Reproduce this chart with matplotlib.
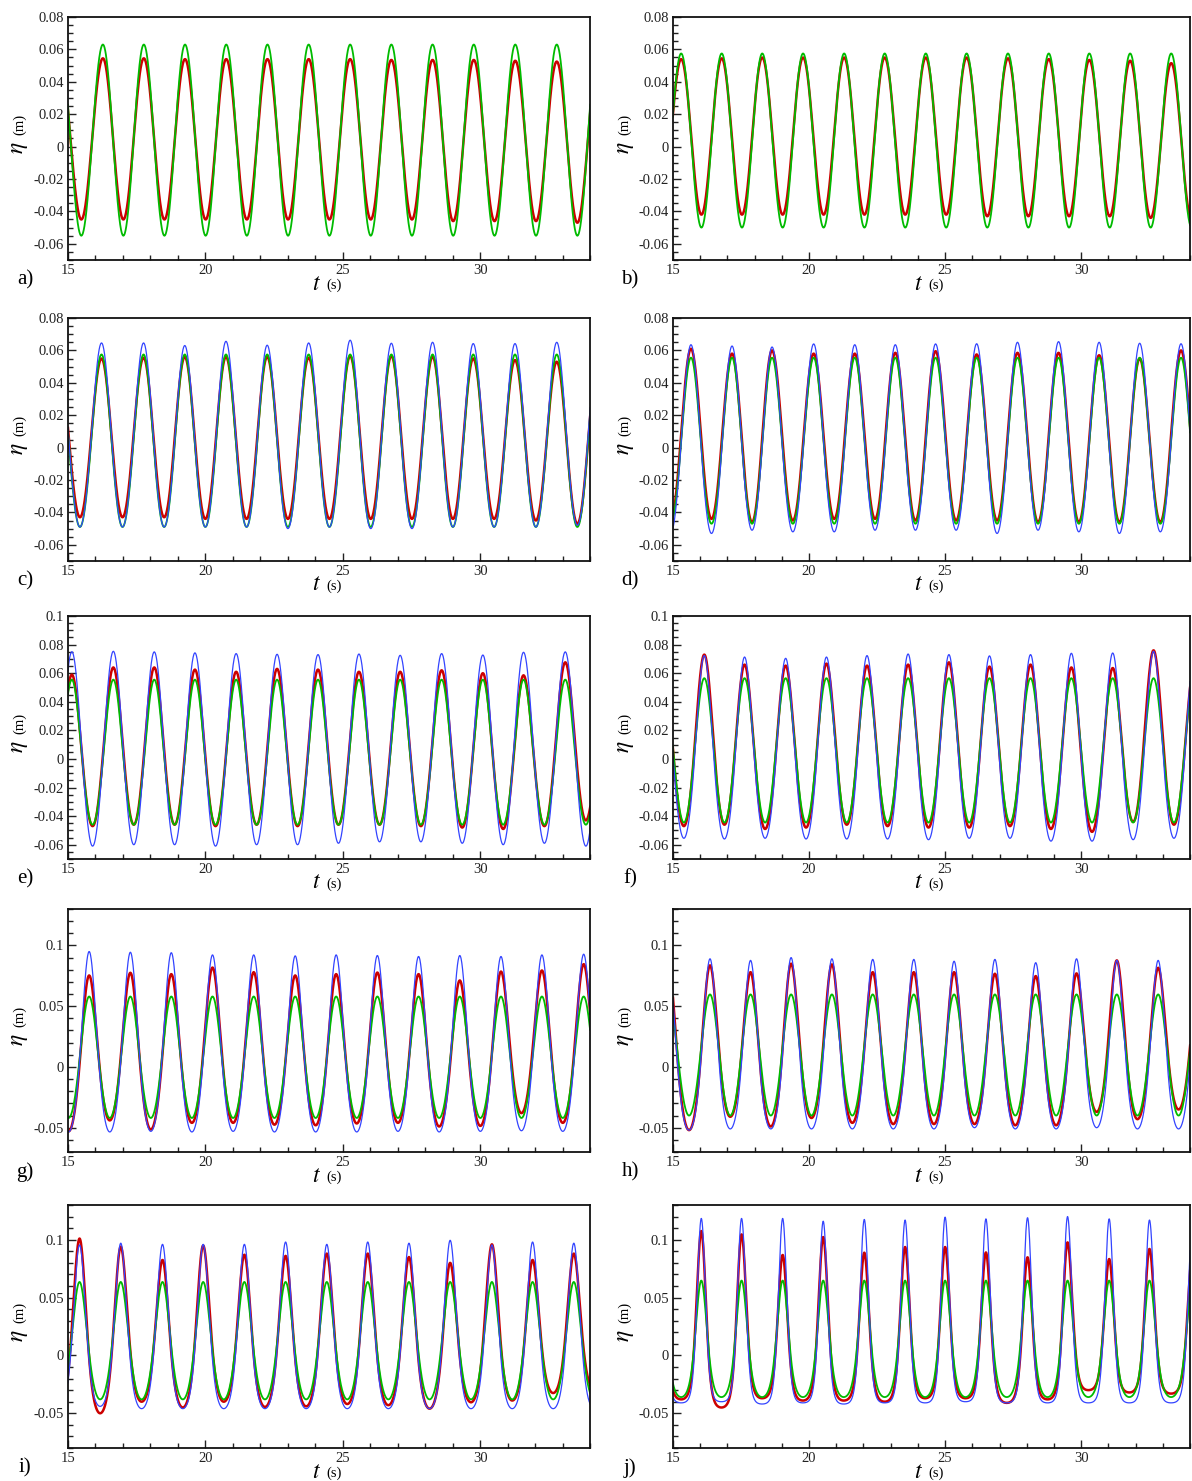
import numpy as np
import matplotlib
matplotlib.use('Agg')
import matplotlib.pyplot as plt
from matplotlib.ticker import MultipleLocator, FuncFormatter

plt.rcParams['font.family'] = ['Liberation Serif', 'DejaVu Serif']
plt.rcParams['mathtext.fontset'] = 'stix'
plt.rcParams['axes.unicode_minus'] = False

# ---------------- data: crest times (s), crest and trough elevations (m) ----------------
# troughs lie between consecutive crests
A_T = [14.70, 16.27, 17.76, 19.26, 20.76, 22.26, 23.76, 25.27, 26.77, 28.27, 29.77, 31.28, 32.79, 34.29]
A_RED_C = [0.054, 0.0545, 0.0545, 0.054, 0.054, 0.054, 0.054, 0.054, 0.0535, 0.0535, 0.0535, 0.053, 0.0525, 0.052]
A_RED_TR = [-0.045, -0.045, -0.045, -0.045, -0.045, -0.045, -0.045, -0.045, -0.045, -0.046, -0.046, -0.046, -0.047]
A_GRN_C = [0.063, 0.063, 0.063, 0.063, 0.063, 0.063, 0.063, 0.063, 0.063, 0.063, 0.063, 0.063, 0.063, 0.063]
A_GRN_TR = [-0.055, -0.055, -0.055, -0.055, -0.055, -0.055, -0.055, -0.055, -0.055, -0.055, -0.055, -0.055, -0.055]

B_T = [13.80, 15.30, 16.79, 18.28, 19.78, 21.29, 22.78, 24.29, 25.79, 27.31, 28.81, 30.30, 31.80, 33.31, 34.81]
B_RED_C = [0.054, 0.054, 0.0545, 0.055, 0.055, 0.055, 0.055, 0.055, 0.055, 0.0545, 0.054, 0.0535, 0.053, 0.0515, 0.051]
B_RED_TR = [-0.042, -0.042, -0.042, -0.042, -0.042, -0.042, -0.042, -0.042, -0.043, -0.043, -0.043, -0.043, -0.044, -0.045]
B_GRN_C = [0.0575, 0.0575, 0.0575, 0.0575, 0.0575, 0.0575, 0.0575, 0.0575, 0.0575, 0.0575, 0.0575, 0.0575, 0.0575, 0.0575, 0.0575]
B_GRN_TR = [-0.050, -0.050, -0.050, -0.050, -0.050, -0.050, -0.050, -0.050, -0.050, -0.050, -0.050, -0.050, -0.050, -0.050]

C_T = [14.65, 16.22, 17.75, 19.25, 20.75, 22.25, 23.76, 25.27, 26.77, 28.27, 29.75, 31.27, 32.79, 34.29]
C_RED_C = [0.055, 0.055, 0.0555, 0.056, 0.056, 0.056, 0.0555, 0.0565, 0.0565, 0.056, 0.055, 0.054, 0.053, 0.053]
C_RED_TR = [-0.043, -0.043, -0.043, -0.044, -0.044, -0.044, -0.044, -0.044, -0.044, -0.044, -0.044, -0.045, -0.047]
C_GRN_C = [0.0575, 0.0575, 0.0575, 0.0575, 0.0575, 0.0575, 0.0575, 0.0575, 0.0575, 0.0575, 0.0575, 0.0575, 0.0575, 0.0575]
C_GRN_TR = [-0.049, -0.049, -0.049, -0.049, -0.049, -0.049, -0.049, -0.049, -0.049, -0.049, -0.049, -0.049, -0.049]
C_BLU_C = [0.064, 0.0646, 0.0646, 0.063, 0.0656, 0.0632, 0.0646, 0.0663, 0.0644, 0.065, 0.0642, 0.0642, 0.065, 0.065]
C_BLU_TR = [-0.049, -0.049, -0.049, -0.049, -0.049, -0.050, -0.049, -0.050, -0.050, -0.049, -0.049, -0.049, -0.048]

D_T = [14.16, 15.66, 17.17, 18.64, 20.17, 21.68, 23.17, 24.65, 26.16, 27.66, 29.17, 30.66, 32.15, 33.67, 35.17]
D_RED_C = [0.060, 0.061, 0.058, 0.060, 0.058, 0.058, 0.0585, 0.0595, 0.0575, 0.0585, 0.0585, 0.057, 0.055, 0.060, 0.058]
D_RED_TR = [-0.045, -0.044, -0.046, -0.045, -0.044, -0.044, -0.045, -0.045, -0.045, -0.046, -0.046, -0.046, -0.046, -0.046]
D_GRN_C = [0.0555, 0.0555, 0.0555, 0.0555, 0.0555, 0.0555, 0.0555, 0.0555, 0.0555, 0.0555, 0.0555, 0.0555, 0.0555, 0.0555, 0.0555]
D_GRN_TR = [-0.047, -0.047, -0.047, -0.047, -0.047, -0.047, -0.047, -0.047, -0.047, -0.047, -0.047, -0.047, -0.047, -0.047]
D_BLU_C = [0.063, 0.0635, 0.0627, 0.0621, 0.064, 0.0635, 0.0635, 0.064, 0.0641, 0.065, 0.0654, 0.065, 0.0644, 0.0641, 0.064]
D_BLU_TR = [-0.053, -0.053, -0.051, -0.052, -0.052, -0.051, -0.051, -0.051, -0.053, -0.051, -0.052, -0.053, -0.052, -0.052]

E_T = [13.64, 15.14, 16.65, 18.14, 19.62, 21.12, 22.61, 24.10, 25.59, 27.09, 28.60, 30.10, 31.58, 33.10, 34.60]
E_RED_C = [0.058, 0.059, 0.064, 0.064, 0.0625, 0.061, 0.063, 0.0625, 0.061, 0.061, 0.062, 0.060, 0.0585, 0.0676, 0.065]
E_RED_TR = [-0.046, -0.047, -0.046, -0.046, -0.047, -0.046, -0.047, -0.046, -0.046, -0.047, -0.048, -0.049, -0.047, -0.043]
E_GRN_C = [0.0555, 0.0555, 0.0555, 0.0555, 0.0555, 0.0555, 0.0555, 0.0555, 0.0555, 0.0555, 0.0555, 0.0555, 0.0555, 0.0555, 0.0555]
E_GRN_TR = [-0.046, -0.046, -0.046, -0.046, -0.046, -0.046, -0.046, -0.046, -0.046, -0.046, -0.046, -0.046, -0.046, -0.046]
E_BLU_C = [0.074, 0.075, 0.0753, 0.0749, 0.0742, 0.0737, 0.0732, 0.073, 0.0734, 0.0725, 0.0737, 0.0727, 0.0746, 0.0749, 0.074]
E_BLU_TR = [-0.060, -0.061, -0.060, -0.060, -0.061, -0.060, -0.060, -0.059, -0.058, -0.058, -0.059, -0.060, -0.059, -0.061]

F_T = [14.65, 16.15, 17.63, 19.14, 20.64, 22.13, 23.64, 25.14, 26.63, 28.14, 29.64, 31.16, 32.66, 34.16]
F_RED_C = [0.065, 0.073, 0.066, 0.0653, 0.0667, 0.0653, 0.066, 0.0676, 0.0646, 0.066, 0.064, 0.0636, 0.076, 0.065]
F_RED_TR = [-0.047, -0.046, -0.049, -0.048, -0.046, -0.047, -0.048, -0.048, -0.047, -0.049, -0.051, -0.044, -0.046]
F_GRN_C = [0.0565, 0.0565, 0.0565, 0.0565, 0.0565, 0.0565, 0.0565, 0.0565, 0.0565, 0.0565, 0.0565, 0.0565, 0.0565, 0.0565]
F_GRN_TR = [-0.0445, -0.0445, -0.0445, -0.0445, -0.0445, -0.0445, -0.0445, -0.0445, -0.0445, -0.0445, -0.0445, -0.0445, -0.0445]
F_BLU_C = [0.072, 0.0723, 0.0713, 0.0704, 0.0713, 0.0723, 0.0734, 0.073, 0.0721, 0.073, 0.0739, 0.0741, 0.0753, 0.073]
F_BLU_TR = [-0.0555, -0.056, -0.0555, -0.056, -0.056, -0.056, -0.0565, -0.0555, -0.0555, -0.0575, -0.0575, -0.0565, -0.0555]

G_T = [14.27, 15.77, 17.27, 18.76, 20.26, 21.76, 23.27, 24.76, 26.26, 27.76, 29.26, 30.76, 32.25, 33.77, 35.27]
G_RED_C = [0.075, 0.0753, 0.0775, 0.0764, 0.0818, 0.078, 0.0753, 0.0764, 0.0777, 0.0764, 0.0712, 0.0785, 0.0794, 0.0846, 0.080]
G_RED_TR = [-0.053, -0.044, -0.0515, -0.046, -0.046, -0.0475, -0.048, -0.0465, -0.046, -0.049, -0.0485, -0.038, -0.046, -0.045]
G_GRN_C = [0.058, 0.058, 0.058, 0.058, 0.058, 0.058, 0.058, 0.058, 0.058, 0.058, 0.058, 0.058, 0.058, 0.058, 0.058]
G_GRN_TR = [-0.042, -0.042, -0.042, -0.042, -0.042, -0.042, -0.042, -0.042, -0.042, -0.042, -0.042, -0.042, -0.042, -0.042]
G_BLU_C = [0.090, 0.095, 0.0944, 0.094, 0.0922, 0.0922, 0.0914, 0.0922, 0.0917, 0.0909, 0.0917, 0.0909, 0.0922, 0.0928, 0.090]
G_BLU_TR = [-0.0535, -0.0535, -0.053, -0.0535, -0.053, -0.0535, -0.0535, -0.0535, -0.053, -0.0535, -0.053, -0.0525, -0.053, -0.053]

H_T = [14.82, 16.36, 17.85, 19.34, 20.84, 22.34, 23.85, 25.33, 26.83, 28.33, 29.83, 31.31, 32.83, 34.33]
H_RED_C = [0.085, 0.0836, 0.078, 0.085, 0.0844, 0.078, 0.078, 0.078, 0.0767, 0.0748, 0.077, 0.0877, 0.0816, 0.080]
H_RED_TR = [-0.052, -0.041, -0.049, -0.042, -0.046, -0.047, -0.047, -0.047, -0.048, -0.048, -0.037, -0.043, -0.035]
H_GRN_C = [0.0597, 0.0597, 0.0597, 0.0597, 0.0597, 0.0597, 0.0597, 0.0597, 0.0597, 0.0597, 0.0597, 0.0597, 0.0597, 0.0597]
H_GRN_TR = [-0.040, -0.040, -0.040, -0.040, -0.040, -0.040, -0.040, -0.040, -0.040, -0.040, -0.040, -0.040, -0.040]
H_BLU_C = [0.088, 0.089, 0.0877, 0.090, 0.089, 0.0885, 0.0885, 0.087, 0.0885, 0.0858, 0.089, 0.0877, 0.0877, 0.088]
H_BLU_TR = [-0.052, -0.051, -0.051, -0.051, -0.051, -0.051, -0.051, -0.050, -0.051, -0.051, -0.050, -0.051, -0.051]

I_T = [13.92, 15.42, 16.92, 18.44, 19.92, 21.42, 22.92, 24.42, 25.91, 27.41, 28.91, 30.43, 31.91, 33.41, 34.91]
I_RED_C = [0.090, 0.101, 0.094, 0.0825, 0.095, 0.087, 0.086, 0.088, 0.088, 0.085, 0.080, 0.096, 0.0825, 0.088, 0.085]
I_RED_TR = [-0.045, -0.050, -0.040, -0.045, -0.040, -0.0445, -0.044, -0.042, -0.043, -0.046, -0.0405, -0.039, -0.0325, -0.030]
I_GRN_C = [0.0635, 0.0635, 0.0635, 0.0635, 0.0635, 0.0635, 0.0635, 0.0635, 0.0635, 0.0635, 0.0635, 0.0635, 0.0635, 0.0635, 0.0635]
I_GRN_TR = [-0.038, -0.038, -0.038, -0.038, -0.038, -0.038, -0.038, -0.038, -0.038, -0.038, -0.038, -0.038, -0.038, -0.038]
I_BLU_C = [0.096, 0.0955, 0.097, 0.096, 0.096, 0.096, 0.098, 0.096, 0.098, 0.097, 0.0995, 0.0955, 0.098, 0.097, 0.096]
I_BLU_TR = [-0.046, -0.044, -0.046, -0.046, -0.046, -0.046, -0.046, -0.046, -0.046, -0.046, -0.046, -0.046, -0.046, -0.046]

J_T = [14.56, 16.04, 17.52, 19.03, 20.52, 22.03, 23.53, 25.00, 26.50, 28.03, 29.50, 31.03, 32.51, 34.10]
J_RED_C = [0.095, 0.1075, 0.1046, 0.0868, 0.1023, 0.0888, 0.0937, 0.0937, 0.089, 0.0848, 0.0977, 0.0833, 0.092, 0.090]
J_RED_TR = [-0.038, -0.045, -0.037, -0.039, -0.039, -0.040, -0.037, -0.037, -0.041, -0.038, -0.030, -0.032, -0.033]
J_GRN_C = [0.0647, 0.0647, 0.0647, 0.0647, 0.0647, 0.0647, 0.0647, 0.0647, 0.0647, 0.0647, 0.0647, 0.0647, 0.0647, 0.0647]
J_GRN_TR = [-0.036, -0.036, -0.036, -0.036, -0.036, -0.036, -0.036, -0.036, -0.036, -0.036, -0.036, -0.036, -0.036]
J_BLU_C = [0.115, 0.1184, 0.1184, 0.1184, 0.116, 0.1175, 0.117, 0.1195, 0.118, 0.119, 0.120, 0.118, 0.117, 0.117]
J_BLU_TR = [-0.041, -0.040, -0.042, -0.041, -0.042, -0.041, -0.041, -0.040, -0.041, -0.041, -0.041, -0.041, -0.041]

PANEL_LABELS = ['a)', 'b)', 'c)', 'd)', 'e)', 'f)', 'g)', 'h)', 'i)', 'j)']
X_RANGE = (15, 34)

# ---------------- styling ----------------
RED = '#cc0000'
GRN = '#00bb00'
BLU = '#3344ff'
W, H = 1192, 1481


def _shape(c, k):
    # normalised crest profile: 1 at crest (c=1), 0 at trough (c=-1); k sets crest sharpness
    return (np.exp(k * c) - np.exp(-k)) / (np.exp(k) - np.exp(-k))


def wave(tc, vc, vt, k, n=90):
    """Smooth curve through alternating crests and troughs (troughs midway)."""
    ts, ys = [], []
    u = np.linspace(0, 1, n, endpoint=False)
    for i in range(len(tc) - 1):
        tm = 0.5 * (tc[i] + tc[i + 1])
        g1 = _shape(np.cos(np.pi * u), k)
        ts.append(tc[i] + u * (tm - tc[i]))
        ys.append(vt[i] + (vc[i] - vt[i]) * g1)
        g2 = _shape(-np.cos(np.pi * u), k)
        ts.append(tm + u * (tc[i + 1] - tm))
        ys.append(vt[i] + (vc[i + 1] - vt[i]) * g2)
    ts.append([tc[-1]])
    ys.append([vc[-1]])
    return np.concatenate(ts), np.concatenate(ys)


panels = [
    dict(t=A_T, s=[(A_RED_C, A_RED_TR, RED, 1.8, 0.01), (A_GRN_C, A_GRN_TR, GRN, 1.3, 0.01)],
         ylim=(-0.07, 0.08), maj=0.02, mnr=0.005),
    dict(t=B_T, s=[(B_RED_C, B_RED_TR, RED, 1.8, 0.01), (B_GRN_C, B_GRN_TR, GRN, 1.3, 0.01)],
         ylim=(-0.07, 0.08), maj=0.02, mnr=0.005),
    dict(t=C_T, s=[(C_RED_C, C_RED_TR, RED, 1.8, 0.1), (C_GRN_C, C_GRN_TR, GRN, 1.3, 0.15),
                   (C_BLU_C, C_BLU_TR, BLU, 0.9, 0.2)],
         ylim=(-0.07, 0.08), maj=0.02, mnr=0.005),
    dict(t=D_T, s=[(D_RED_C, D_RED_TR, RED, 1.8, 0.1), (D_GRN_C, D_GRN_TR, GRN, 1.3, 0.15),
                   (D_BLU_C, D_BLU_TR, BLU, 0.9, 0.2)],
         ylim=(-0.07, 0.08), maj=0.02, mnr=0.005),
    dict(t=E_T, s=[(E_RED_C, E_RED_TR, RED, 1.8, 0.2), (E_GRN_C, E_GRN_TR, GRN, 1.3, 0.2),
                   (E_BLU_C, E_BLU_TR, BLU, 0.9, 0.15)],
         ylim=(-0.07, 0.1), maj=0.02, mnr=0.005),
    dict(t=F_T, s=[(F_RED_C, F_RED_TR, RED, 1.8, 0.3), (F_GRN_C, F_GRN_TR, GRN, 1.3, 0.15),
                   (F_BLU_C, F_BLU_TR, BLU, 0.9, 0.4)],
         ylim=(-0.07, 0.1), maj=0.02, mnr=0.005),
    dict(t=G_T, s=[(G_RED_C, G_RED_TR, RED, 1.8, 0.5), (G_GRN_C, G_GRN_TR, GRN, 1.3, 0.3),
                   (G_BLU_C, G_BLU_TR, BLU, 0.9, 0.65)],
         ylim=(-0.07, 0.13), maj=0.05, mnr=0.01),
    dict(t=H_T, s=[(H_RED_C, H_RED_TR, RED, 1.8, 0.6), (H_GRN_C, H_GRN_TR, GRN, 1.3, 0.25),
                   (H_BLU_C, H_BLU_TR, BLU, 0.9, 0.8)],
         ylim=(-0.07, 0.13), maj=0.05, mnr=0.01),
    dict(t=I_T, s=[(I_RED_C, I_RED_TR, RED, 1.8, 1.0), (I_GRN_C, I_GRN_TR, GRN, 1.3, 0.65),
                   (I_BLU_C, I_BLU_TR, BLU, 0.9, 1.2)],
         ylim=(-0.08, 0.13), maj=0.05, mnr=0.01),
    dict(t=J_T, s=[(J_RED_C, J_RED_TR, RED, 1.8, 2.0), (J_GRN_C, J_GRN_TR, GRN, 1.3, 1.35),
                   (J_BLU_C, J_BLU_TR, BLU, 0.9, 2.5)],
         ylim=(-0.08, 0.13), maj=0.05, mnr=0.01),
]

ROW_TOPS = [17, 318, 616, 909, 1205]
AX_H = 243
COLS = [(68, 522), (673, 517)]


def fmt(v, pos):
    v = round(v, 4)
    if abs(v) < 1e-9:
        return '0'
    return '{:g}'.format(v)


fig = plt.figure(figsize=(W / 100, H / 100), dpi=100)

for k, pdef in enumerate(panels):
    r, c = divmod(k, 2)
    left, width = COLS[c]
    top = ROW_TOPS[r]
    ax = fig.add_axes([left / W, 1 - (top + AX_H) / H, width / W, AX_H / H])
    for vc, vt, col, lw, kk in pdef['s']:
        tt, yy = wave(pdef['t'], vc, vt, kk)
        ax.plot(tt, yy, color=col, lw=lw, solid_joinstyle='round')
    ax.set_xlim(*X_RANGE)
    ax.set_ylim(*pdef['ylim'])
    ax.xaxis.set_major_locator(MultipleLocator(5))
    ax.xaxis.set_minor_locator(MultipleLocator(1))
    ax.yaxis.set_major_locator(MultipleLocator(pdef['maj']))
    ax.yaxis.set_minor_locator(MultipleLocator(pdef['mnr']))
    ax.yaxis.set_major_formatter(FuncFormatter(fmt))
    ax.tick_params(which='both', direction='in', top=False, right=False,
                   labelsize=10.5, colors='#222222', width=1.0)
    ax.tick_params(which='major', length=6)
    ax.tick_params(which='minor', length=3.5)
    ax.tick_params(axis='x', pad=3)
    ax.tick_params(axis='y', pad=3)
    for sp in ax.spines.values():
        sp.set_linewidth(1.3)
        sp.set_color('#111111')

    # axis labels (pixel positions)
    cx = left + width / 2
    cy = top + AX_H / 2
    bottom = top + AX_H
    fig.text((left - 48) / W, 1 - (cy + 9) / H, r'$\eta$', fontsize=17,
             rotation=90, ha='center', va='center')
    fig.text((left - 48) / W, 1 - (cy - 14) / H, '(m)', fontsize=10.5,
             rotation=90, ha='center', va='center')
    fig.text((cx - 13) / W, 1 - (bottom + 24) / H, r'$t$', fontsize=17,
             ha='center', va='center')
    fig.text((cx + 5) / W, 1 - (bottom + 25) / H, '(s)', fontsize=10.5,
             ha='center', va='center')
    fig.text((left - 43) / W, 1 - (bottom + 20) / H, PANEL_LABELS[k], fontsize=15,
             ha='center', va='center')

fig.savefig('out.png', dpi=100)
